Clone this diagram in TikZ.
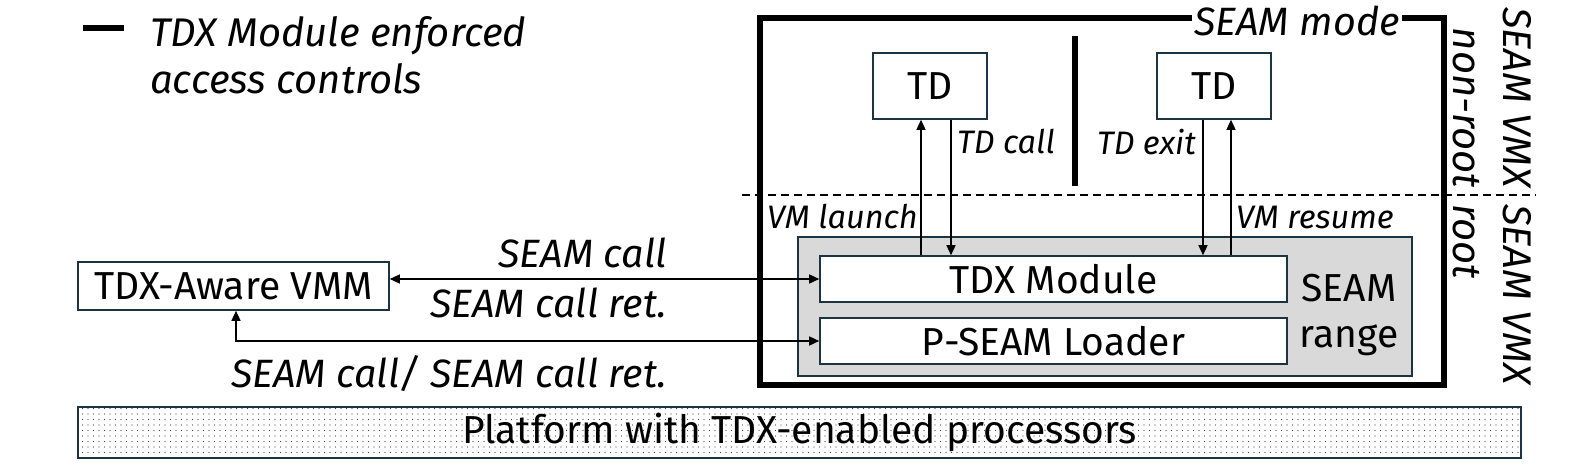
\documentclass[tikz,border=0pt]{standalone}
\usepackage{fontspec}
\setmainfont{Fira Sans}
\usetikzlibrary{arrows.meta,patterns.meta}
\definecolor{boxc}{HTML}{1C3342}
\definecolor{rangec}{HTML}{D9D9D9}
\begin{document}
\begin{tikzpicture}[x=1pt,y=-1pt,
  box/.style={draw=boxc, line width=1.6pt, fill=white, inner sep=0pt, font=\fontsize{39}{42}\selectfont},
  lbl/.style={inner sep=0pt, font=\fontsize{39.5}{42}\selectfont\itshape},
  slbl/.style={inner sep=0pt, font=\fontsize{32.5}{36}\selectfont\itshape},
  arr/.style={line width=1.4pt, -{Triangle[length=10pt,width=9pt]}},
  darr/.style={line width=1.4pt, {Triangle[length=10pt,width=9pt]}-{Triangle[length=10pt,width=9pt]}},
  thick line/.style={line width=5.5pt},
]
\useasboundingbox (0,0) rectangle (1595,469);

% legend
\coordinate (lg1) at (83,28);
\coordinate (lg2) at (124,28);
\draw[thick line] (lg1) -- (lg2);
\node[lbl, anchor=west, align=left, font=\fontsize{40}{47}\selectfont\itshape] (legend) at (150,55) {TDX Module enforced\\access controls};

% SEAM mode box
\node[draw=black, line width=5.5pt, minimum width=684pt, minimum height=367pt, inner sep=0pt] (seammode) at (1102,201.5) {};
\node[lbl, fill=white, inner xsep=2pt, inner ysep=3pt] (seammodelbl) at (1297,21) {SEAM mode};

% separator
\coordinate (sep1) at (1075,36);
\coordinate (sep2) at (1075,186);
\draw[thick line] (sep1) -- (sep2);

% dashed line
\coordinate (d1) at (742,195);
\coordinate (d2) at (1536,195);
\draw[line width=2pt, dash pattern=on 8pt off 5pt] (d1) -- (d2);

% TD boxes
\node[box, minimum width=114pt, minimum height=66pt] (tdL) at (930,86) {TD};
\node[box, minimum width=114pt, minimum height=66pt] (tdR) at (1214,86) {TD};

% SEAM range
\node[draw=boxc, line width=1.6pt, fill=rangec, minimum width=614pt, minimum height=139pt, inner sep=0pt] (range) at (1105,306.5) {};
\node[box, minimum width=467pt, minimum height=46pt] (tdx) at (1053.5,279) {TDX Module};
\node[box, minimum width=467pt, minimum height=46pt] (psl) at (1053.5,341) {P-SEAM Loader};
\node[inner sep=0pt, align=center, font=\fontsize{39}{46}\selectfont] (rangelbl) at (1349,315) {SEAM\\range};

% VMM
\node[box, minimum width=311pt, minimum height=48pt] (vmm) at (233.5,286) {TDX-Aware VMM};

% Platform
\node[draw=boxc, line width=1.8pt, pattern={Dots[radius=0.65pt, distance=5.5pt]}, pattern color=black!75, minimum width=1443pt, minimum height=51pt, inner sep=0pt] (plat) at (799.5,432.5) {};
\node[inner sep=0pt, font=\fontsize{39}{42}\selectfont] (platlbl) at (plat.center) {Platform with TDX-enabled processors};

% TD arrows
\coordinate (xa) at (921,0);
\coordinate (xb) at (951,0);
\coordinate (xc) at (1203,0);
\coordinate (xd) at (1231,0);
\draw[arr] (tdx.north -| xa) -- (tdL.south -| xa);
\draw[arr] (tdL.south -| xb) -- (tdx.north -| xb);
\draw[arr] (tdR.south -| xc) -- (tdx.north -| xc);
\draw[arr] (tdx.north -| xd) -- (tdR.south -| xd);
\node[slbl, anchor=west] (tdcall) at (957,142) {TD call};
\node[slbl, anchor=east] (tdexit) at (1196,142) {TD exit};
\node[slbl, anchor=east] (vmlaunch) at (918,217) {VM launch};
\node[slbl, anchor=west] (vmresume) at (1236,217) {VM resume};

% SEAM call arrows
\draw[darr] (tdx.west) -- (tdx.west -| vmm.east);
\node[lbl, anchor=east] (sc) at (667,253) {SEAM call};
\node[lbl, anchor=east] (scr) at (667,303) {SEAM call ret.};
\coordinate (xl) at (236,0);
\draw[darr] (psl.west) -- (psl.west -| xl) -- (vmm.south -| xl);
\node[lbl, anchor=east] (scboth) at (667,374) {SEAM call/ SEAM call ret.};

% rotated labels
\node[lbl, rotate=-90, anchor=east, align=right, font=\fontsize{40}{50}\selectfont\itshape] (nonroot) at (1492,188) {SEAM VMX\\non-root};
\node[lbl, rotate=-90, anchor=west, align=left, font=\fontsize{40}{50}\selectfont\itshape] (root) at (1492,204) {SEAM VMX\\root};
\end{tikzpicture}
\end{document}
